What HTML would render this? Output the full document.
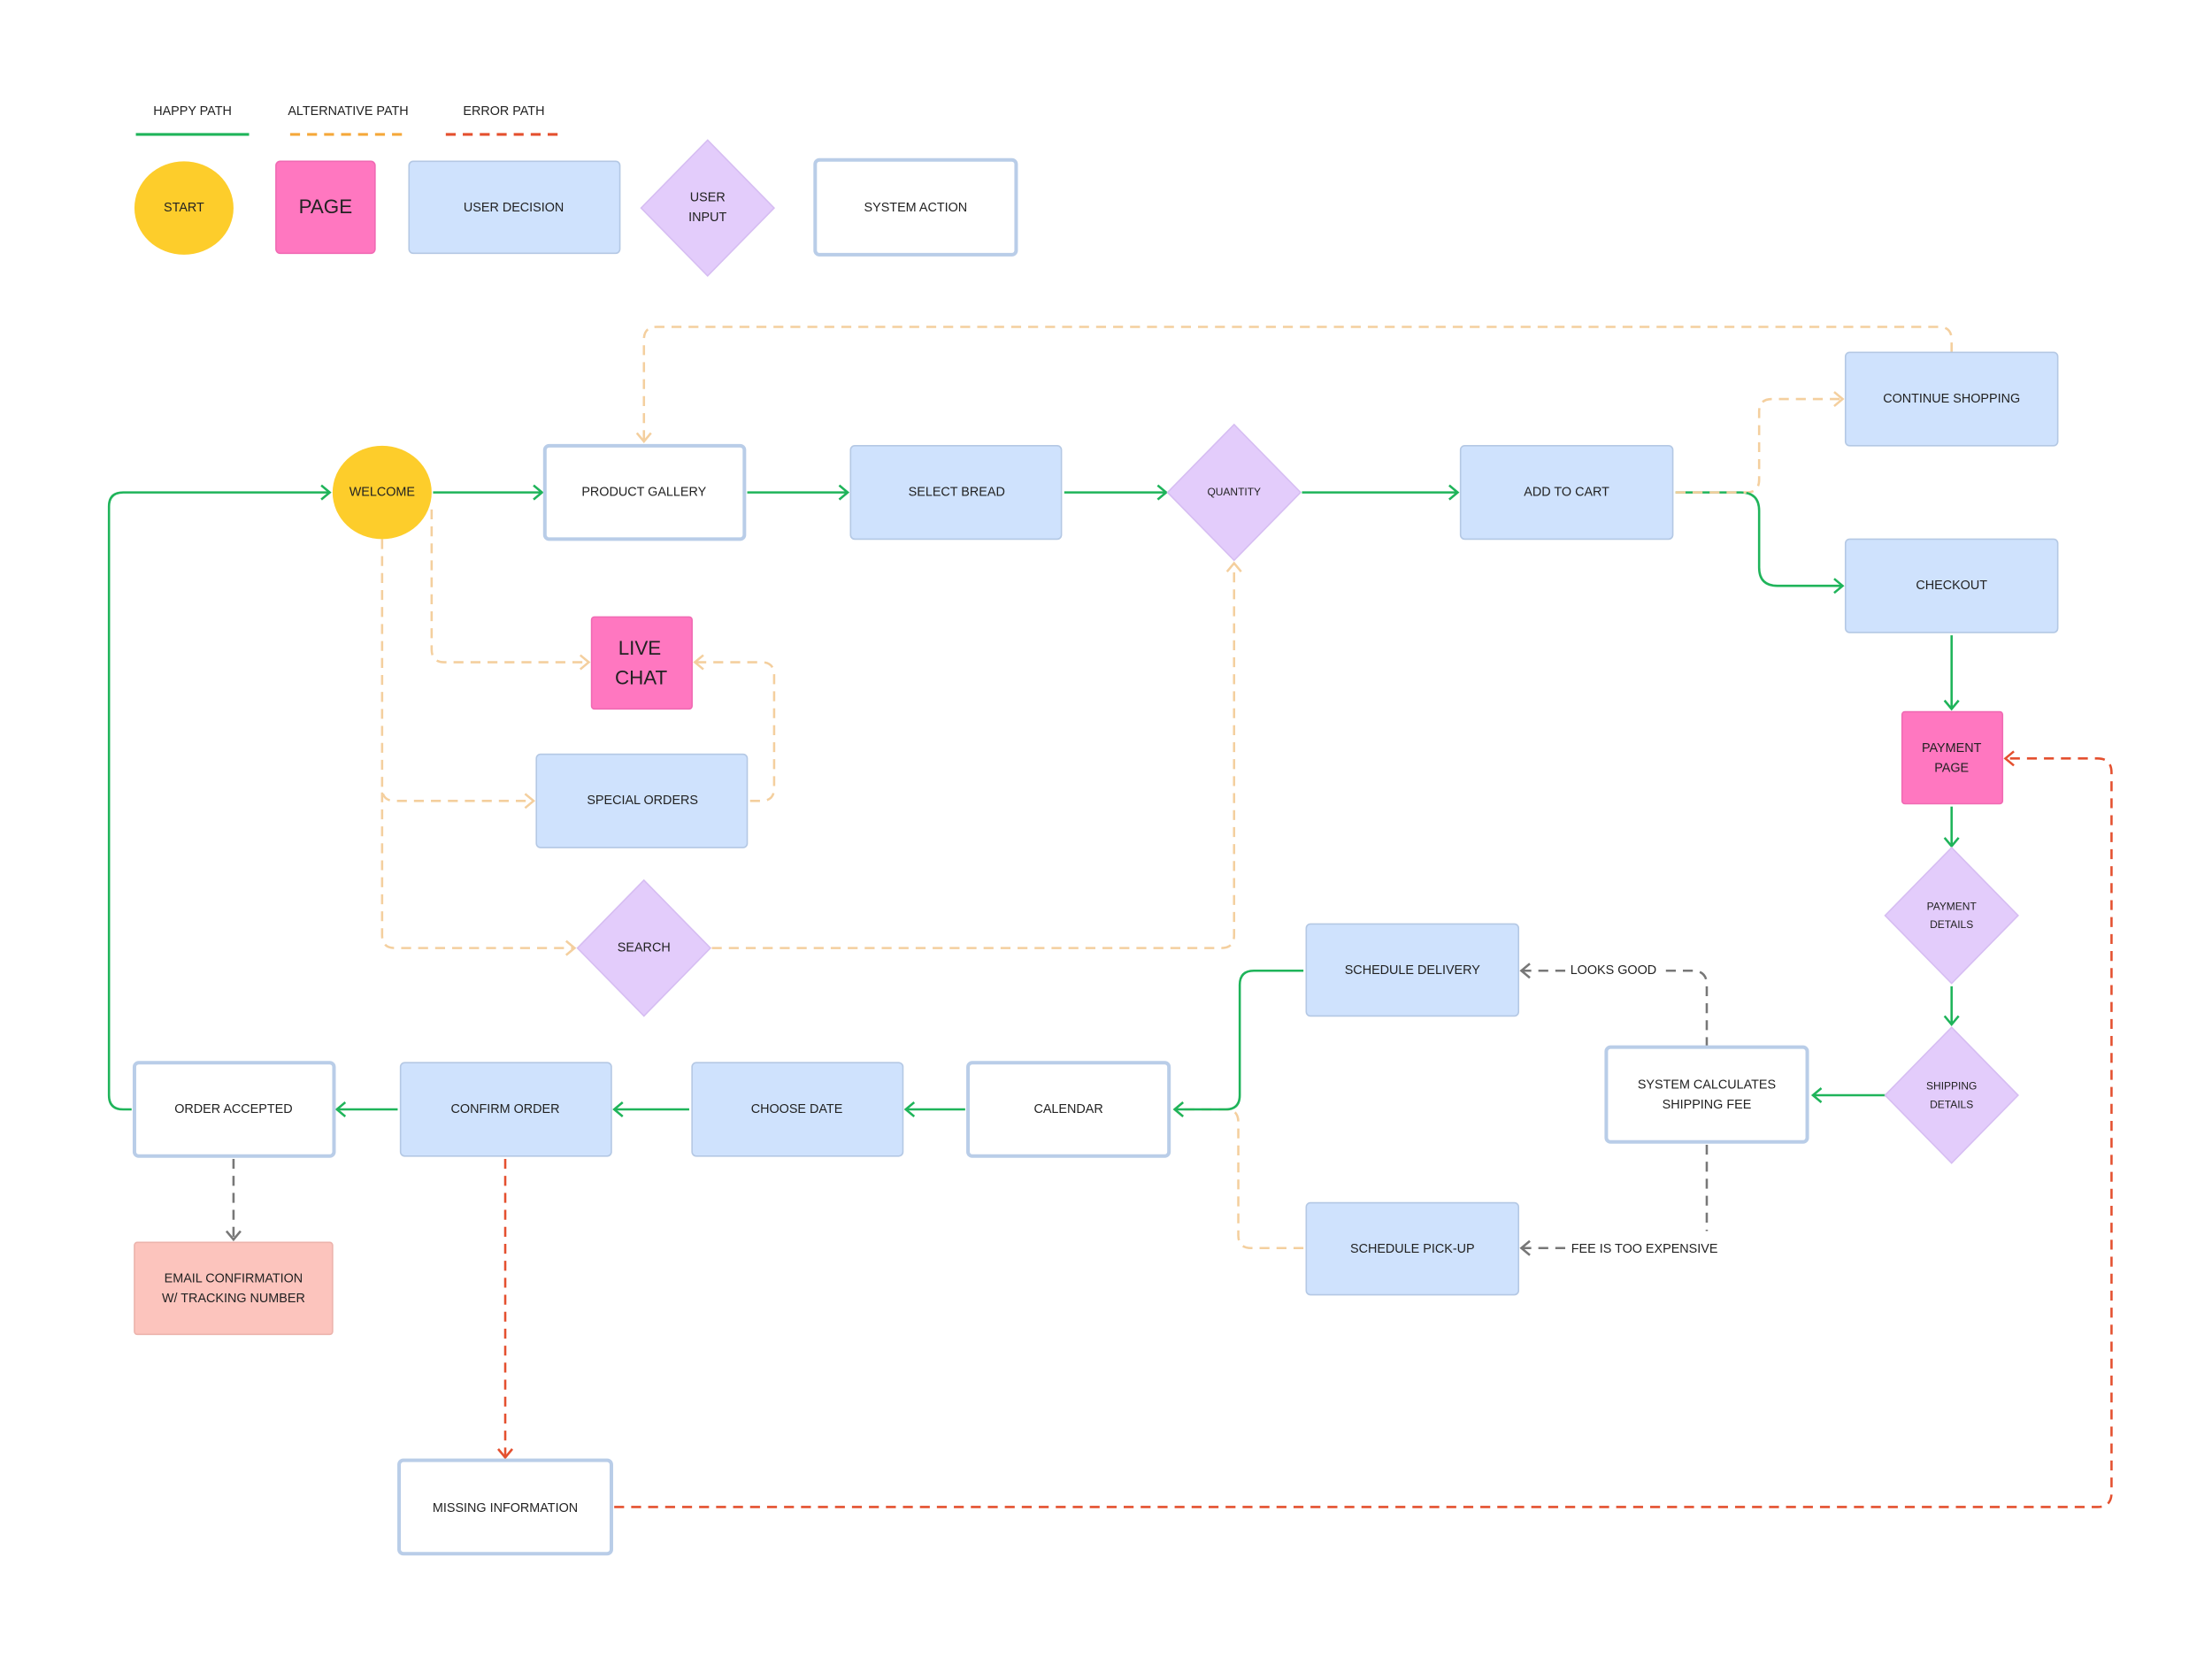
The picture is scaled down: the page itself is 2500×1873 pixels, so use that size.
<!DOCTYPE html>
<html><head><meta charset="utf-8"><style>
html,body{margin:0;padding:0;background:#fff;}
svg{display:block;}
text{font-family:"Liberation Sans",sans-serif;fill:#222;text-anchor:middle;dominant-baseline:middle;}
.b{fill:#cfe2fd;stroke:#b4c8e4;stroke-width:1;}
.s{fill:#fff;stroke:#b9cde8;stroke-width:2.5;}
.s2{fill:none;stroke:#fff;stroke-width:1;}
.p{fill:#e3ccfb;stroke:#d6bdf2;stroke-width:1;}
.pk{fill:#ff77c0;stroke:#f06ab3;stroke-width:1;}
.g{fill:none;stroke:#1fb45a;stroke-width:1.6;}
.a{fill:none;stroke:#f4cf9e;stroke-width:1.6;stroke-dasharray:7 5;}
.r{fill:none;stroke:#e4502f;stroke-width:1.6;stroke-dasharray:7 5;}
.k{fill:none;stroke:#777;stroke-width:1.6;stroke-dasharray:7 5;}
</style></head><body>
<svg width="2500" height="1873" viewBox="0 0 1563 1171" xmlns="http://www.w3.org/2000/svg">
<defs>
<marker id="mg" markerWidth="10" markerHeight="12" refX="8" refY="6" orient="auto" markerUnits="userSpaceOnUse"><path d="M2,1 L8,6 L2,11" fill="none" stroke="#1fb45a" stroke-width="1.6"/></marker>
<marker id="ma" markerWidth="10" markerHeight="12" refX="8" refY="6" orient="auto" markerUnits="userSpaceOnUse"><path d="M2,1 L8,6 L2,11" fill="none" stroke="#f4cf9e" stroke-width="1.6"/></marker>
<marker id="mr" markerWidth="10" markerHeight="12" refX="8" refY="6" orient="auto" markerUnits="userSpaceOnUse"><path d="M2,1 L8,6 L2,11" fill="none" stroke="#e4502f" stroke-width="1.6"/></marker>
<marker id="mk" markerWidth="10" markerHeight="12" refX="8" refY="6" orient="auto" markerUnits="userSpaceOnUse"><path d="M2,1 L8,6 L2,11" fill="none" stroke="#777" stroke-width="1.6"/></marker>
</defs>

<!-- legend -->
<text x="136" y="79" font-size="9">HAPPY PATH</text>
<text x="246" y="79" font-size="9">ALTERNATIVE PATH</text>
<text x="356" y="79" font-size="9">ERROR PATH</text>
<line x1="96" y1="95" x2="176" y2="95" stroke="#1fb45a" stroke-width="2"/>
<line x1="205" y1="95" x2="285" y2="95" stroke="#f5a83a" stroke-width="2" stroke-dasharray="7 5"/>
<line x1="315" y1="95" x2="395" y2="95" stroke="#e4502f" stroke-width="2" stroke-dasharray="7 5"/>
<ellipse cx="130" cy="147" rx="35" ry="33" fill="#fdcd2b"/>
<text x="130" y="147" font-size="9">START</text>
<rect x="195" y="114" width="70" height="65" rx="3" class="pk"/>
<text x="230" y="147" font-size="14">PAGE</text>
<rect x="289" y="114" width="149" height="65" rx="3" class="b"/>
<text x="363" y="147" font-size="9">USER DECISION</text>
<path d="M500,99 L547,147 L500,195 L453,147 Z" class="p"/>
<text x="500" y="140" font-size="9">USER</text><text x="500" y="154" font-size="9">INPUT</text>
<rect x="576" y="113" width="142" height="67" rx="3" class="s"/>
<text x="647" y="147" font-size="9">SYSTEM ACTION</text>

<!-- connectors alt -->
<path class="a" d="M1379,249 L1379,240 Q1379,231 1370,231 L464,231 Q455,231 455,240 L455,312" marker-end="url(#ma)"/>
<path class="a" d="M1184,348 L1234,348 Q1243,348 1243,339 L1243,291 Q1243,282 1252,282 L1302,282" marker-end="url(#ma)"/>
<path class="a" d="M305,360 L305,459 Q305,468 314,468 L416,468" marker-end="url(#ma)"/>
<path class="a" d="M530,566 L538,566 Q547,566 547,557 L547,477 Q547,468 538,468 L491,468" marker-end="url(#ma)"/>
<path class="a" d="M270,381 L270,557 Q270,566 279,566 L377,566" marker-end="url(#ma)"/>
<path class="a" d="M270,560 L270,661 Q270,670 279,670 L406,670" marker-end="url(#ma)"/>
<path class="a" d="M503,670 L863,670 Q872,670 872,661 L872,398" marker-end="url(#ma)"/>
<path class="a" d="M921,882 L884,882 Q875,882 875,873 L875,793 Q875,784 866,784 L830,784" marker-end="url(#ma)"/>

<!-- green -->
<path class="g" d="M306,348 L383,348" marker-end="url(#mg)"/>
<path class="g" d="M528,348 L599,348" marker-end="url(#mg)"/>
<path class="g" d="M752,348 L824,348" marker-end="url(#mg)"/>
<path class="g" d="M920,348 L1030,348" marker-end="url(#mg)"/>
<path class="g" d="M1184,348 L1230,348 Q1243,348 1243,361 L1243,401 Q1243,414 1256,414 L1302,414" marker-end="url(#mg)"/>
<path class="a" d="M1184,348 L1234,348"/>
<path class="g" d="M1379,449 L1379,501" marker-end="url(#mg)"/>
<path class="g" d="M1379,570 L1379,598" marker-end="url(#mg)"/>
<path class="g" d="M1379,697 L1379,724" marker-end="url(#mg)"/>
<path class="g" d="M1332,774 L1281,774" marker-end="url(#mg)"/>
<path class="g" d="M921,686 L886,686 Q876,686 876,696 L876,774 Q876,784 866,784 L830,784" marker-end="url(#mg)"/>
<path class="g" d="M682,784 L640,784" marker-end="url(#mg)"/>
<path class="g" d="M487,784 L434,784" marker-end="url(#mg)"/>
<path class="g" d="M281,784 L238,784" marker-end="url(#mg)"/>
<path class="g" d="M93,784 L87,784 Q77,784 77,774 L77,358 Q77,348 87,348 L233,348" marker-end="url(#mg)"/>

<!-- gray -->
<path class="k" d="M1206,740 L1206,696 Q1206,686 1196,686 L1177,686"/>
<path class="k" d="M1106,686 L1075,686" marker-end="url(#mk)"/>
<text x="1140" y="686" font-size="9">LOOKS GOOD</text>
<path class="k" d="M1206,809 L1206,870"/>
<path class="k" d="M1106,882 L1075,882" marker-end="url(#mk)"/>
<text x="1162" y="883" font-size="9">FEE IS TOO EXPENSIVE</text>
<path class="k" d="M165,819 L165,876" marker-end="url(#mk)"/>

<!-- red -->
<path class="r" d="M357,819 L357,1030" marker-end="url(#mr)"/>
<path class="r" d="M434,1065 L1482,1065 Q1492,1065 1492,1055 L1492,546 Q1492,536 1482,536 L1417,536" marker-end="url(#mr)"/>

<!-- nodes -->
<ellipse cx="270" cy="348" rx="35" ry="33" fill="#fdcd2b"/>
<text x="270" y="348" font-size="9">WELCOME</text>
<rect x="385" y="315" width="141" height="66" rx="3" class="s"/>
<text x="455" y="348" font-size="9">PRODUCT GALLERY</text>
<rect x="601" y="315" width="149" height="66" rx="3" class="b"/>
<text x="676" y="348" font-size="9">SELECT BREAD</text>
<path d="M872,300 L919,348 L872,396 L825,348 Z" class="p"/>
<text x="872" y="348" font-size="7.5">QUANTITY</text>
<rect x="1032" y="315" width="150" height="66" rx="3" class="b"/>
<text x="1107" y="348" font-size="9">ADD TO CART</text>
<rect x="1304" y="249" width="150" height="66" rx="3" class="b"/>
<text x="1379" y="282" font-size="9">CONTINUE SHOPPING</text>
<rect x="1304" y="381" width="150" height="66" rx="3" class="b"/>
<text x="1379" y="414" font-size="9">CHECKOUT</text>
<rect x="1344" y="503" width="71" height="65" rx="2" class="pk"/>
<text x="1379" y="529" font-size="9">PAYMENT</text><text x="1379" y="543" font-size="9">PAGE</text>
<path d="M1379,599 L1426,647 L1379,695 L1332,647 Z" class="p"/>
<text x="1379" y="641" font-size="7.5">PAYMENT</text><text x="1379" y="654" font-size="7.5">DETAILS</text>
<path d="M1379,726 L1426,774 L1379,822 L1332,774 Z" class="p"/>
<text x="1379" y="768" font-size="7.5">SHIPPING</text><text x="1379" y="781" font-size="7.5">DETAILS</text>
<rect x="1135" y="740" width="142" height="67" rx="3" class="s"/>
<text x="1206" y="767" font-size="9">SYSTEM CALCULATES</text><text x="1206" y="781" font-size="9">SHIPPING FEE</text>
<rect x="923" y="653" width="150" height="65" rx="3" class="b"/>
<text x="998" y="686" font-size="9">SCHEDULE DELIVERY</text>
<rect x="923" y="850" width="150" height="65" rx="3" class="b"/>
<text x="998" y="883" font-size="9">SCHEDULE PICK-UP</text>
<rect x="684" y="751" width="142" height="66" rx="3" class="s"/>
<text x="755" y="784" font-size="9">CALENDAR</text>
<rect x="489" y="751" width="149" height="66" rx="3" class="b"/>
<text x="563" y="784" font-size="9">CHOOSE DATE</text>
<rect x="283" y="751" width="149" height="66" rx="3" class="b"/>
<text x="357" y="784" font-size="9">CONFIRM ORDER</text>
<rect x="95" y="751" width="141" height="66" rx="3" class="s"/>
<text x="165" y="784" font-size="9">ORDER ACCEPTED</text>
<rect x="95" y="878" width="140" height="65" rx="2" fill="#fcc4bd" stroke="#ecb3ac" stroke-width="1"/>
<text x="165" y="904" font-size="9">EMAIL CONFIRMATION</text><text x="165" y="918" font-size="9">W/ TRACKING NUMBER</text>
<rect x="282" y="1032" width="150" height="66" rx="3" class="s"/>
<text x="357" y="1066" font-size="9">MISSING INFORMATION</text>
<rect x="418" y="436" width="71" height="65" rx="2" class="pk"/>
<text x="452" y="459" font-size="14">LIVE</text><text x="453" y="480" font-size="14">CHAT</text>
<rect x="379" y="533" width="149" height="66" rx="3" class="b"/>
<text x="454" y="566" font-size="9">SPECIAL ORDERS</text>
<path d="M455,622 L502,670 L455,718 L408,670 Z" class="p"/>
<text x="455" y="670" font-size="9">SEARCH</text>
</svg>
</body></html>
